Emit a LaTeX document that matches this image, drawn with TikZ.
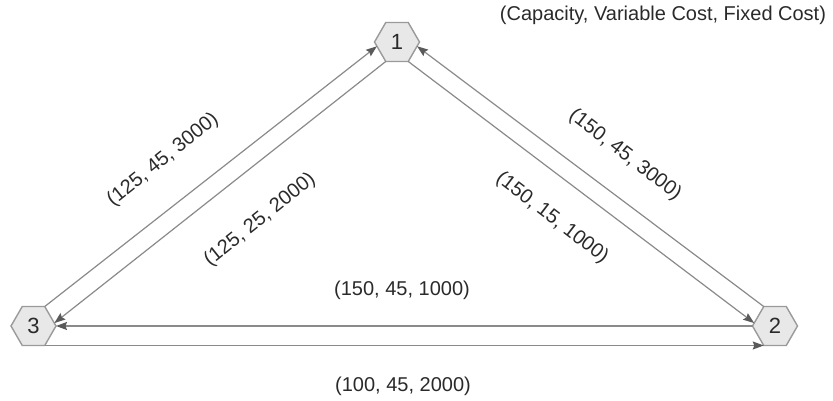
\documentclass[tikz,border=0pt]{standalone}
\usepackage{fontspec}
\setmainfont{Liberation Sans}
\usetikzlibrary{shapes.geometric,arrows.meta}
\definecolor{edgegray}{HTML}{8A8A8A}
\definecolor{tipgray}{HTML}{5A5A5A}
\definecolor{hexfill}{HTML}{E8E8E8}
\definecolor{hexline}{HTML}{9A9A9A}
\definecolor{ink}{HTML}{2A2A2A}
\tikzset{
  hexnode/.style={regular polygon, regular polygon sides=6, minimum size=45pt,
    inner sep=0pt, outer sep=0pt, fill=hexfill, draw=hexline, line width=1.4pt,
    text=ink, font=\fontsize{22}{26}\selectfont},
  flow/.style={draw=edgegray, line width=1.2pt,
    -{Stealth[length=11pt,width=8pt,inset=1.5pt,color=tipgray]}},
  lbl/.style={text=ink, font=\fontsize{20}{24}\selectfont, inner sep=0pt}
}
\begin{document}
\begin{tikzpicture}[x=1pt,y=-1pt]
  \useasboundingbox (0,0) rectangle (833,401);

  % facilities
  \node[hexnode] (n1) at (397,42) {1};
  \node[hexnode] (n2) at (775,326) {2};
  \node[hexnode] (n3) at (33.5,326) {3};

  % shipping lanes
  \draw[flow] (n3.60) -- (n1.192);
  \draw[flow] (n1.240) -- (n3.8);
  \draw[flow] (n2.120) -- (n1.348);
  \draw[flow] (n1.300) -- (n2.172);
  \draw[flow] (n2.180) -- (n3.0);
  \draw[flow] (n3.300) -- (n2.240);

  % lane parameters
  \node[lbl] (legend) at (663,15) {(Capacity, Variable Cost, Fixed Cost)};
  \node[lbl, rotate=38.6] (l31) at (163,160) {(125, 45, 3000)};
  \node[lbl, rotate=38.6] (l13) at (260,220) {(125, 25, 2000)};
  \node[lbl, rotate=-37.5] (l21) at (625,155) {(150, 45, 3000)};
  \node[lbl, rotate=-37.5] (l12) at (552,218) {(150, 15, 1000)};
  \node[lbl] (l23) at (402,290) {(150, 45, 1000)};
  \node[lbl] (l32) at (403,386) {(100, 45, 2000)};
\end{tikzpicture}
\end{document}
